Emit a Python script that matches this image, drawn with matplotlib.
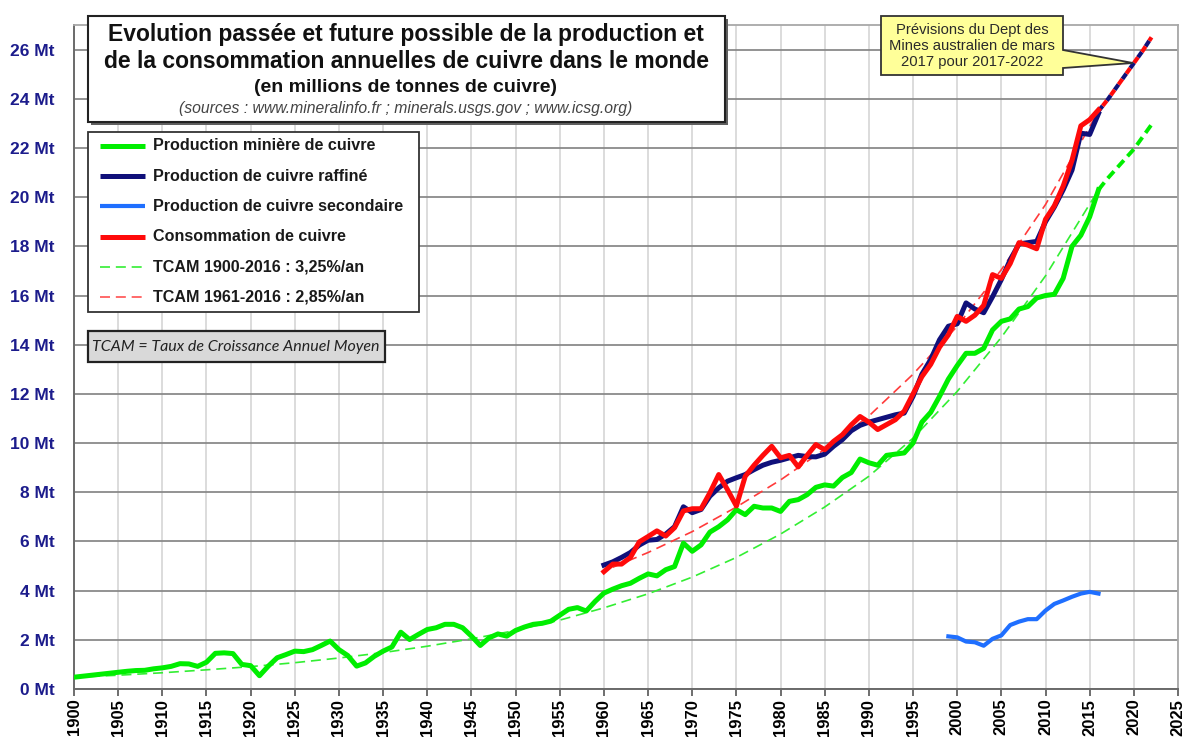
import matplotlib
matplotlib.use("Agg")
import matplotlib.pyplot as plt
import numpy as np
from matplotlib.lines import Line2D
from matplotlib.patches import Rectangle, Polygon

plt.rcParams['font.family'] = ['Liberation Sans', 'DejaVu Sans']

W, H = 1187, 738

# production miniere mondiale 1900-2016 (Mt)
mine_years = np.arange(1900, 2017)
mine_prod = [
    0.48, 0.52, 0.56, 0.60, 0.64, 0.68, 0.72, 0.75, 0.76, 0.82,   # 1900
    0.86, 0.92, 1.03, 1.02, 0.92, 1.09, 1.45, 1.47, 1.44, 1.00,   # 1910
    0.95, 0.54, 0.93, 1.27, 1.40, 1.54, 1.52, 1.60, 1.77, 1.95,   # 1920
    1.60, 1.36, 0.93, 1.06, 1.33, 1.54, 1.71, 2.31, 2.01, 2.22,   # 1930
    2.42, 2.49, 2.63, 2.63, 2.49, 2.15, 1.77, 2.08, 2.24, 2.15,   # 1940
    2.38, 2.52, 2.63, 2.67, 2.76, 3.00, 3.24, 3.31, 3.17, 3.56,   # 1950
    3.90, 4.06, 4.20, 4.30, 4.50, 4.68, 4.60, 4.85, 4.98, 5.93,   # 1960
    5.60, 5.86, 6.38, 6.60, 6.88, 7.29, 7.09, 7.43, 7.36, 7.36,   # 1970
    7.22, 7.63, 7.70, 7.90, 8.20, 8.30, 8.25, 8.60, 8.80, 9.35,   # 1980
    9.20, 9.10, 9.50, 9.55, 9.60, 10.00, 10.85, 11.25, 11.90, 12.60,  # 1990
    13.15, 13.65, 13.65, 13.85, 14.60, 14.95, 15.05, 15.45, 15.55, 15.90,  # 2000
    16.00, 16.05, 16.70, 18.00, 18.45, 19.20, 20.30]  # 2010-2016

# cuivre raffine et consommation 1960-2016 (Mt)
ref_years = np.arange(1960, 2017)
refined = [
    5.04, 5.17, 5.35, 5.55, 5.85, 6.05, 6.08, 6.30, 6.60, 7.41,
    7.17, 7.30, 7.84, 8.18, 8.45, 8.59, 8.72, 8.92, 9.10, 9.22,
    9.30, 9.40, 9.50, 9.45, 9.44, 9.55, 9.87, 10.14, 10.50, 10.72,
    10.85, 10.95, 11.05, 11.15, 11.22, 11.90, 12.80, 13.40, 14.20, 14.75,
    14.85, 15.70, 15.45, 15.30, 15.95, 16.65, 17.45, 18.10, 18.15, 18.20,
    19.00, 19.60, 20.30, 21.10, 22.60, 22.55, 23.40]
consumption = [
    4.77, 5.08, 5.08, 5.35, 5.98, 6.20, 6.43, 6.22, 6.56, 7.24,
    7.33, 7.33, 7.98, 8.72, 8.10, 7.44, 8.65, 9.10, 9.50, 9.87,
    9.40, 9.50, 9.03, 9.50, 9.94, 9.73, 10.07, 10.34, 10.74, 11.08,
    10.85, 10.55, 10.75, 10.95, 11.30, 12.00, 12.70, 13.20, 13.90, 14.40,
    15.15, 14.95, 15.20, 15.60, 16.85, 16.70, 17.30, 18.15, 18.05, 17.90,
    19.10, 19.65, 20.45, 21.50, 22.90, 23.15, 23.55]

# cuivre secondaire 1999-2016
sec_years = np.arange(1999, 2017)
secondary = [2.14, 2.10, 1.93, 1.90, 1.76, 2.04, 2.18, 2.60, 2.74, 2.84,
             2.84, 3.19, 3.46, 3.60, 3.75, 3.88, 3.95, 3.88]

# previsions Dept des Mines australien 2016-2022
fc_years = np.arange(2016, 2023)
cons_fc = [23.50, 23.95, 24.45, 24.95, 25.45, 25.95, 26.50]
mine_fc = [20.30, 20.75, 21.15, 21.55, 21.95, 22.45, 22.95]

# courbes TCAM
tcam1_years = [1900, 1905, 1910, 1915, 1920, 1925, 1930, 1935, 1940, 1945, 1950, 1955,
               1960, 1965, 1970, 1975, 1980, 1985, 1990, 1995, 2000, 2005, 2010, 2016]
tcam1_vals = [0.48, 0.56, 0.66, 0.78, 0.91, 1.07, 1.26, 1.48, 1.74, 2.04, 2.38, 2.80,
              3.30, 3.87, 4.55, 5.35, 6.30, 7.40, 8.65, 10.20, 12.10, 14.30, 16.80, 20.30]
tcam2_years = [1961, 1965, 1970, 1975, 1980, 1985, 1990, 1995, 2000, 2005, 2010, 2016]
tcam2_vals = [4.95, 5.55, 6.40, 7.40, 8.50, 9.75, 11.10, 12.80, 14.75, 17.05, 19.70, 23.50]

x_ticks = list(range(1900, 2026, 5))
y_ticks = list(range(0, 27, 2))

GREEN = '#00ee00'
NAVY = '#10107a'
SEC = '#1f6fff'
RED = '#ff0a0a'


def fx(x):
    return x / W


def fy(y):
    return 1 - y / H


fig = plt.figure(figsize=(W / 100, H / 100), dpi=100)
ax = fig.add_axes([fx(74), fy(689), (1178 - 74) / W, (689 - 25) / H])
ax.set_xlim(1900, 2025)
ax.set_ylim(0, 27)

ax.set_xticks(x_ticks)
ax.set_xticklabels([str(v) for v in x_ticks], rotation=90, fontsize=12, fontweight='bold')
ax.set_yticks(y_ticks)
ax.set_yticklabels([f"{v} Mt" for v in y_ticks], fontsize=12.5, fontweight='bold', color='#1c1c8c')
ax.tick_params(axis='x', length=5, width=1.2, color='#555555', pad=2)
ax.tick_params(axis='y', length=0, pad=14)
ax.xaxis.grid(True, color='#d9d9d9', lw=1.3)
ax.yaxis.grid(True, color='#8a8a8a', lw=1.3)
ax.set_axisbelow(True)
for side in ['left', 'bottom']:
    ax.spines[side].set_color('#6a6a6a')
    ax.spines[side].set_linewidth(1.4)
for side in ['top', 'right']:
    ax.spines[side].set_color('#a8a8a8')
    ax.spines[side].set_linewidth(1.3)

# tendances
ax.plot(tcam1_years, tcam1_vals, color='#33ee33', lw=1.2, ls=(0, (6, 3.5)), zorder=2)
ax.plot(tcam2_years, tcam2_vals, color='#ff3b3b', lw=1.2, ls=(0, (6, 3.5)), zorder=2)

# series
ax.plot(mine_years, mine_prod, color=GREEN, lw=3.6, solid_joinstyle='round', zorder=3)
ax.plot(sec_years, secondary, color=SEC, lw=3.0, solid_joinstyle='round', zorder=3)
ax.plot(ref_years, refined, color=NAVY, lw=3.6, solid_joinstyle='round', zorder=4)
ax.plot(ref_years, consumption, color=RED, lw=3.6, solid_joinstyle='round', zorder=5)

# previsions
ax.plot(fc_years, mine_fc, color=GREEN, lw=2.8, ls=(0, (2.4, 1.4)), zorder=3)
ax.plot(fc_years, cons_fc, color=NAVY, lw=3.0, ls=(0, (1.6, 1.6)), zorder=4)
ax.plot(fc_years, cons_fc, color=RED, lw=3.0, ls=(1.6, (1.6, 1.6)), zorder=5)

# cadre du titre
fig.add_artist(Rectangle((fx(91), fy(125)), (725 - 88) / W, (122 - 16) / H,
                         transform=fig.transFigure, fc='#606060', ec='none', zorder=5))
fig.add_artist(Rectangle((fx(88), fy(122)), (725 - 88) / W, (122 - 16) / H,
                         transform=fig.transFigure, fc='white', ec='#222222', lw=1.5, zorder=6))
fig.text(fx(406), fy(35), "Evolution passée et future possible de la production et",
         ha='center', va='center', fontsize=16.5, fontweight='bold', color='#111111', zorder=7)
fig.text(fx(406), fy(61), "de la consommation annuelles de cuivre dans le monde",
         ha='center', va='center', fontsize=16.5, fontweight='bold', color='#111111', zorder=7)
fig.text(fx(406), fy(87), "(en millions de tonnes de cuivre)",
         ha='center', va='center', fontsize=14, fontweight='bold', color='#111111', zorder=7)
fig.text(fx(406), fy(108), "(sources : www.mineralinfo.fr ; minerals.usgs.gov ; www.icsg.org)",
         ha='center', va='center', fontsize=11.3, style='italic', color='#444444', zorder=7)

# legende
fig.add_artist(Rectangle((fx(88), fy(312)), (419 - 88) / W, (312 - 132) / H,
                         transform=fig.transFigure, fc='white', ec='#333333', lw=1.3, zorder=6))
legend_items = [
    ("Production minière de cuivre", GREEN, 3.6, '-'),
    ("Production de cuivre raffiné", NAVY, 3.6, '-'),
    ("Production de cuivre secondaire", SEC, 3.0, '-'),
    ("Consommation de cuivre", RED, 3.6, '-'),
    ("TCAM 1900-2016 : 3,25%/an", '#33ee33', 1.2, (0, (6, 3.5))),
    ("TCAM 1961-2016 : 2,85%/an", '#ff5050', 1.2, (0, (6, 3.5))),
]
for i, (label, col, lw, ls) in enumerate(legend_items):
    yc = 146 + i * 30.2
    fig.add_artist(Line2D([fx(100), fx(145)], [fy(yc), fy(yc)], transform=fig.transFigure,
                          color=col, lw=lw, ls=ls, solid_capstyle='butt', zorder=7))
    fig.text(fx(153), fy(yc), label, ha='left', va='center', fontsize=11.6,
             fontweight='bold', color='#1a1a1a', zorder=7)

# cadre TCAM
fig.add_artist(Rectangle((fx(88), fy(362)), (385 - 88) / W, (362 - 331) / H,
                         transform=fig.transFigure, fc='#d9d9d9', ec='#222222', lw=1.6, zorder=6))
fig.text(fx(236), fy(347), "TCAM = Taux de Croissance Annuel Moyen", ha='center', va='center',
         fontsize=11.5, style='italic', family=['Lato', 'DejaVu Sans'], color='#222222', zorder=7)

# bulle previsions
bubble = [(881, 16), (1063, 16), (1063, 50), (1133, 63), (1063, 68), (1063, 75), (881, 75)]
fig.add_artist(Polygon([(fx(a), fy(b)) for a, b in bubble], closed=True, transform=fig.transFigure,
                       fc='#ffff99', ec='#333333', lw=1.3, zorder=6))
fig.text(fx(972), fy(46), "Prévisions du Dept des\nMines australien de mars\n2017 pour 2017-2022",
         ha='center', va='center', fontsize=10.6, linespacing=1.2, color='#2a2a2a', zorder=7)

fig.savefig("out.png", dpi=100)
